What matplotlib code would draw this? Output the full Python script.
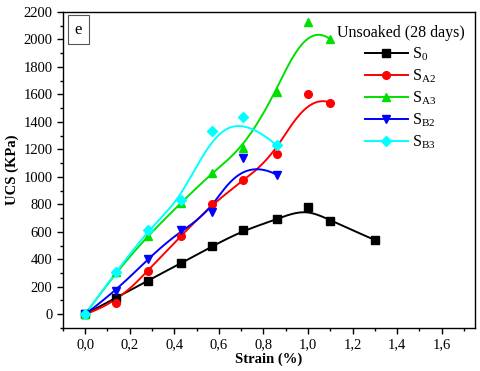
import numpy as np
import matplotlib
matplotlib.use("Agg")
import matplotlib.pyplot as plt
from matplotlib.ticker import MultipleLocator, FuncFormatter

plt.rcParams['font.family'] = ['Liberation Serif', 'DejaVu Serif']
plt.rcParams['mathtext.fontset'] = 'custom'
plt.rcParams['mathtext.rm'] = 'Liberation Serif'
plt.rcParams['mathtext.it'] = 'Liberation Serif:italic'
plt.rcParams['mathtext.bf'] = 'Liberation Serif:bold'

strain = [0.0, 0.14, 0.28, 0.43, 0.57, 0.71, 0.86, 1.0, 1.1, 1.3]
s0 = [0, 120, 245, 370, 495, 610, 690, 780, 680, 540]
sa2 = [0, 80, 315, 570, 800, 975, 1165, 1600, 1540]
sa3 = [0, 310, 570, 810, 1030, 1210, 1620, 2125, 2000]
sb2 = [0, 170, 405, 610, 745, 1140, 1015]
sb3 = [0, 310, 615, 830, 1330, 1435, 1228]

series = [
    (s0, 'black', 's', r'$\mathrm{S}_{0}$'),
    (sa2, '#ff0000', 'o', r'$\mathrm{S}_{\mathrm{A2}}$'),
    (sa3, '#00e000', '^', r'$\mathrm{S}_{\mathrm{A3}}$'),
    (sb2, '#0000ff', 'v', r'$\mathrm{S}_{\mathrm{B2}}$'),
    (sb3, '#00ffff', 'D', r'$\mathrm{S}_{\mathrm{B3}}$'),
]


def bspline(px, py, n=300, k=3):
    px = np.asarray(px, float)
    py = np.asarray(py, float)
    m = len(px)
    k = min(k, m - 1)
    inner = np.linspace(0, 1, m - k + 1)
    t = np.concatenate([np.zeros(k), inner, np.ones(k)])
    u = np.linspace(0, 1, n)
    u[-1] = 1 - 1e-9
    N = np.zeros((n, len(t) - 1))
    for i in range(len(t) - 1):
        N[:, i] = ((u >= t[i]) & (u < t[i + 1])).astype(float)
    for d in range(1, k + 1):
        Nn = np.zeros((n, len(t) - 1 - d))
        for i in range(len(t) - 1 - d):
            a = t[i + d] - t[i]
            b = t[i + d + 1] - t[i + 1]
            term = 0
            if a > 0:
                term = term + (u - t[i]) / a * N[:, i]
            if b > 0:
                term = term + (t[i + d + 1] - u) / b * N[:, i + 1]
            Nn[:, i] = term
        N = Nn
    return N @ px, N @ py


fig = plt.figure(figsize=(4.8, 3.71), dpi=100)
ax = fig.add_axes([0.131, 0.116, 0.859, 0.852])

handles = []
for vals, col, mk, lab in series:
    xs = strain[:len(vals)]
    cx, cy = bspline(xs, vals)
    ax.plot(cx, cy, color=col, lw=1.4, zorder=2)
    ms = 5.5 if mk != 'D' else 5
    ax.plot(xs, vals, ls='none', marker=mk, color=col, ms=ms, zorder=3)
    h, = ax.plot([], [], color=col, lw=1.4, marker=mk, ms=ms, label=lab)
    handles.append(h)

ax.set_xlim(-0.1, 1.75)
ax.set_ylim(-100, 2200)
ax.xaxis.set_minor_locator(MultipleLocator(0.1))
ax.yaxis.set_major_locator(MultipleLocator(200))
ax.yaxis.set_minor_locator(MultipleLocator(100))
ax.set_xticks(np.arange(0, 1.61, 0.2))
ax.xaxis.set_major_formatter(FuncFormatter(lambda v, p: f"{v:.1f}".replace('.', ',')))
ax.yaxis.set_major_formatter(FuncFormatter(lambda v, p: f"{int(round(v))}"))
ax.tick_params(which='both', direction='out', top=False, right=False, labelsize=10.5,
               width=1.0)
ax.tick_params(which='major', length=4)
ax.tick_params(which='minor', length=2.5)
for s in ax.spines.values():
    s.set_linewidth(1.0)

ax.set_xlabel('Strain (%)', fontsize=10.5, fontweight='bold', labelpad=1)
ax.set_ylabel('UCS (KPa)', fontsize=10.5, fontweight='bold', labelpad=3)

ax.text(0.038, 0.944, 'e', transform=ax.transAxes, fontsize=12, ha='center', va='center',
        bbox=dict(boxstyle='square,pad=0.4', fc='white', ec='#555555', lw=0.8))

leg = ax.legend(handles=handles, title='Unsoaked (28 days)', loc='upper right',
                bbox_to_anchor=(0.997, 0.99), frameon=False, fontsize=11.5,
                title_fontsize=11.5, handlelength=2.7, labelspacing=0.29,
                handletextpad=0.25, borderaxespad=0.2)

fig.savefig('out.png', dpi=100)
